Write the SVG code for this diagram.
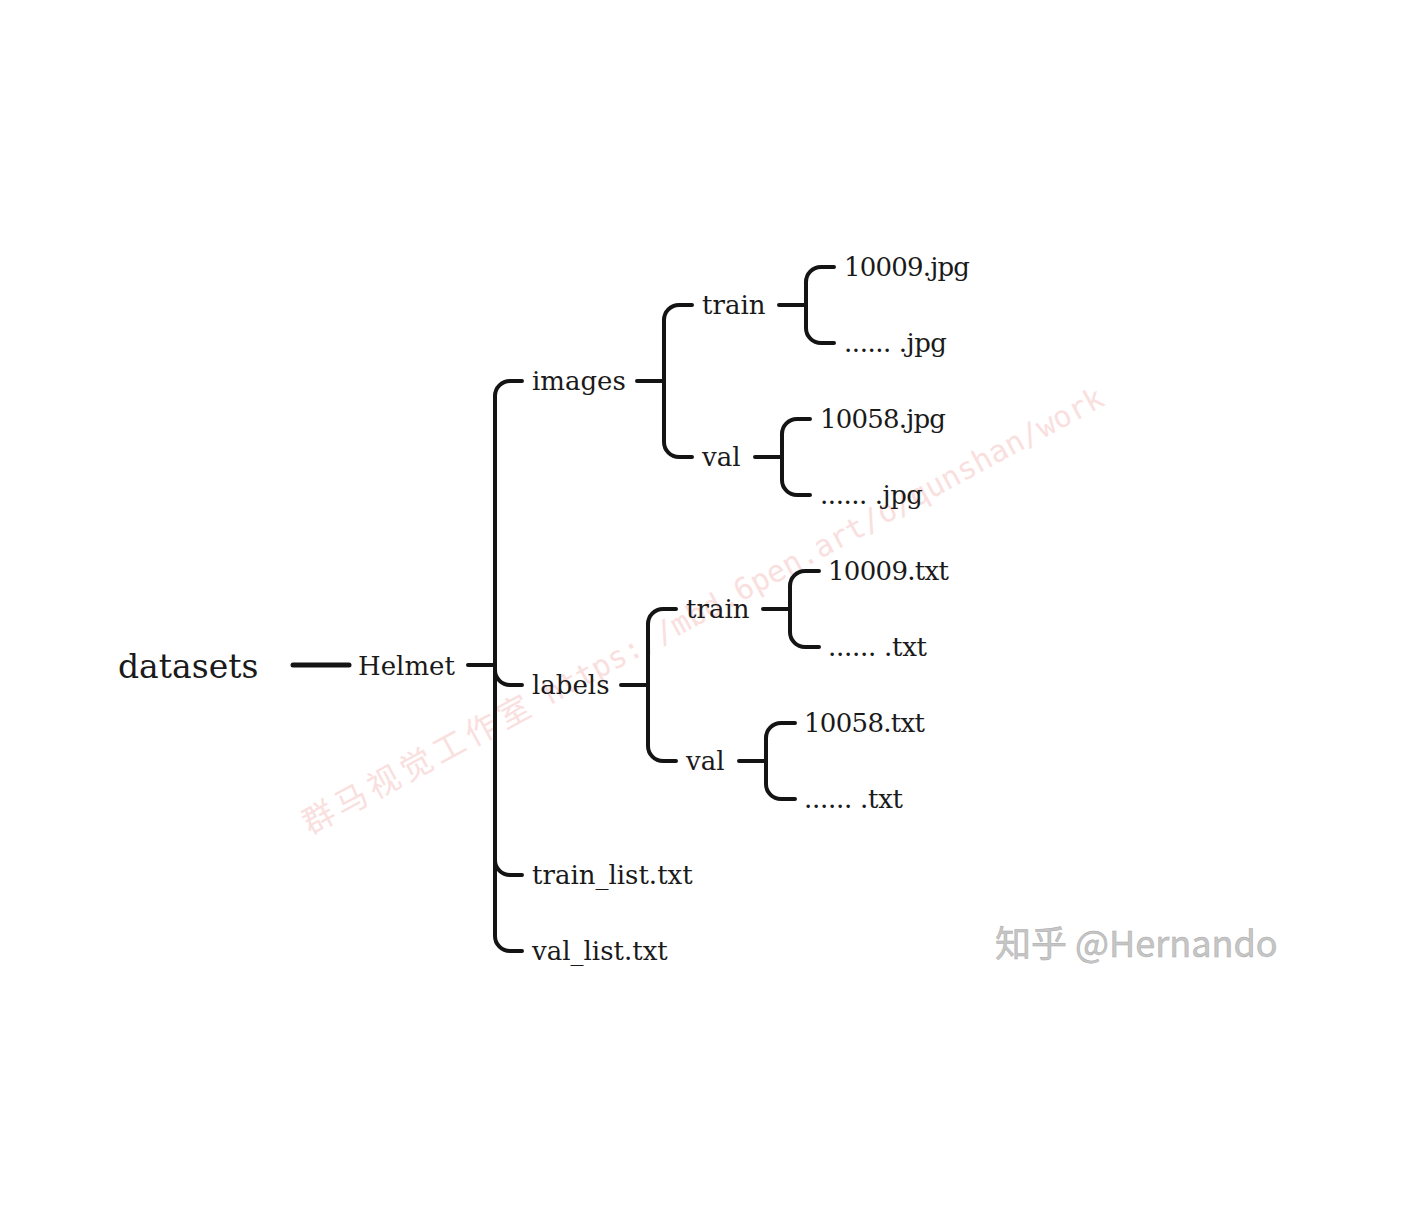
<svg xmlns="http://www.w3.org/2000/svg" width="1416" height="1230" viewBox="0 0 1416 1230">
<style>
.t{font-family:"DejaVu Serif","Liberation Serif",serif;font-size:26px;fill:#1a1a1a}
.big{font-size:33px}
.ln{fill:none;stroke:#141414;stroke-width:4;stroke-linecap:round;stroke-linejoin:round}
.wm{fill:#f8d2d2;opacity:0.7}
</style>
<rect width="1416" height="1230" fill="#ffffff"/>
<g id="watermark" transform="translate(310,835) rotate(-28.4)">
<text class="wm" x="0" y="0" font-family="'Noto Sans CJK SC',sans-serif" font-size="32" letter-spacing="5">群马视觉工作室</text>
<text class="wm" x="273" y="0" font-family="'DejaVu Sans Mono',monospace" font-size="30">https://mbd.6pen.art/o/qunshan/work</text>
</g>
<g id="connectors">
<path class="ln" d="M293,665 H349" style="stroke-width:5"/>
<path class="ln" d="M468,665 H495"/>
<path class="ln" d="M522,381 H510 A15,15 0 0 0 495,396 V936 A15,15 0 0 0 510,951 H522"/>
<path class="ln" d="M495,670 A15,15 0 0 0 510,685 H522"/>
<path class="ln" d="M495,860 A15,15 0 0 0 510,875 H522"/>
<path class="ln" d="M637,381 H664 M692,305 H679 A15,15 0 0 0 664,320 V442 A15,15 0 0 0 679,457 H692"/>
<path class="ln" d="M779,305 H806 M834,267 H821 A15,15 0 0 0 806,282 V328 A15,15 0 0 0 821,343 H834"/>
<path class="ln" d="M755,457 H782 M810,419 H797 A15,15 0 0 0 782,434 V480 A15,15 0 0 0 797,495 H810"/>
<path class="ln" d="M621,685 H648 M676,609 H663 A15,15 0 0 0 648,624 V746 A15,15 0 0 0 663,761 H676"/>
<path class="ln" d="M763,609 H790 M819,571 H805 A15,15 0 0 0 790,586 V632 A15,15 0 0 0 805,647 H819"/>
<path class="ln" d="M739,761 H766 M795,723 H781 A15,15 0 0 0 766,738 V784 A15,15 0 0 0 781,799 H795"/>
</g>
<g id="n-datasets"><text class="t big" x="118" y="678">datasets</text></g>
<g id="n-helmet"><text class="t" x="358" y="675">Helmet</text></g>
<g id="n-images"><text class="t" x="532" y="390">images</text></g>
<g id="n-labels"><text class="t" x="532" y="694">labels</text></g>
<g id="n-trainlist"><text class="t" x="532" y="884">train_list.txt</text></g>
<g id="n-vallist"><text class="t" x="532" y="960">val_list.txt</text></g>
<g id="n-img-train"><text class="t" x="702" y="314">train</text></g>
<g id="n-img-val"><text class="t" x="702" y="466">val</text></g>
<g id="n-img-train-1"><text class="t" x="844" y="276" textLength="126">10009.jpg</text></g>
<g id="n-img-train-2"><text class="t" x="844" y="352" textLength="103">...... .jpg</text></g>
<g id="n-img-val-1"><text class="t" x="820" y="428" textLength="126">10058.jpg</text></g>
<g id="n-img-val-2"><text class="t" x="820" y="504" textLength="103">...... .jpg</text></g>
<g id="n-lbl-train"><text class="t" x="686" y="618">train</text></g>
<g id="n-lbl-val"><text class="t" x="686" y="770">val</text></g>
<g id="n-lbl-train-1"><text class="t" x="828" y="580" textLength="121">10009.txt</text></g>
<g id="n-lbl-train-2"><text class="t" x="828" y="656" textLength="99">...... .txt</text></g>
<g id="n-lbl-val-1"><text class="t" x="804" y="732" textLength="121">10058.txt</text></g>
<g id="n-lbl-val-2"><text class="t" x="804" y="808" textLength="99">...... .txt</text></g>
<g id="zhihu"><text x="995" y="957" font-family="'Noto Sans CJK SC','Noto Sans',sans-serif" font-size="36" fill="#c6c6c6" stroke="#ababab" stroke-width="0.5">知乎 @Hernando</text></g>
</svg>
